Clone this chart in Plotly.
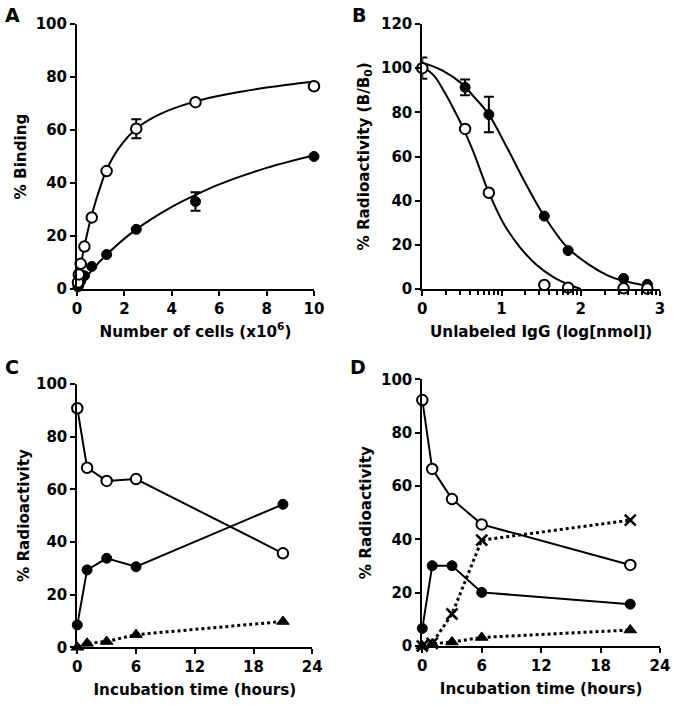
import numpy as np
import plotly.graph_objects as go

# ---------------- Panel A data ----------------
a_cells = [0.039, 0.078, 0.156, 0.3125, 0.625, 1.25, 2.5, 5, 10]
a_open = [2.5, 5.5, 9.5, 16, 27, 44.5, 60.5, 70.5, 76.5]
a_open_err = [0, 0, 0, 0, 0, 0, 3.6, 0, 0]
a_filled = [0.8, 1.5, 3.0, 5.0, 8.5, 13, 22.5, 33, 50]
a_filled_err = [0, 0, 0, 0, 0, 0, 0, 3.5, 0]
# fitted curves
a_fit_open_x = [0, 0.08, 0.16, 0.31, 0.625, 1.0, 1.25, 1.75, 2.5, 3.5, 5, 6.5, 8, 10]
a_fit_open_y = [0, 4.5, 9, 16, 28, 39, 45, 53, 60.5, 66, 70.8, 73.8, 76, 78.3]
a_fit_filled_x = [0, 0.625, 1.25, 2.5, 4, 5, 6, 8, 10]
a_fit_filled_y = [0, 7, 13, 22.5, 31, 35.5, 39.5, 45.7, 50.5]

# ---------------- Panel B data ----------------
b_logx = [0, 0.54, 0.84, 1.54, 1.84, 2.54, 2.84]
b_open = [100, 72.5, 43.6, 1.8, 0.6, 0.3, 0.2]
b_open_err = [4.8, 0, 0, 0, 0, 0, 0]
b_filled = [100, 91.3, 79, 33, 17.4, 4.8, 2.1]
b_filled_err = [0, 3.6, 8, 0, 0, 0, 0]
b_fit_filled_x = [0, 0.25, 0.5, 0.64, 0.83, 1.07, 1.28, 1.53, 1.82, 2.08, 2.33, 2.5, 2.9]
b_fit_filled_y = [102.5, 99, 93, 87.5, 79.5, 64, 49.4, 33.5, 19.2, 11.6, 6.3, 4.1, 1]
b_fit_open_x = [0, 0.15, 0.29, 0.41, 0.52, 0.64, 0.83, 1.02, 1.23, 1.44, 1.65, 1.86, 2.0]
b_fit_open_y = [101, 96.5, 88.5, 80.5, 72.5, 62.5, 44.5, 30, 19, 11, 5.5, 1.8, 0]
b_major_ticks = [0, 1, 2, 3]
b_minor_ticks = [float(np.log10(k * 10 ** n)) for n in range(3) for k in range(2, 10)]

# ---------------- Panel C data ----------------
c_time = [0, 1, 3, 6, 21]
c_open = [90.8, 68.2, 63.2, 63.9, 35.7]
c_filled = [8.5, 29.4, 33.8, 30.6, 54.3]
c_tri = [0, 1.5, 2.2, 4.8, 9.8]

# ---------------- Panel D data ----------------
d_time = [0, 1, 3, 6, 21]
d_open = [92.2, 66.4, 55.1, 45.6, 30.4]
d_filled = [6.6, 30.1, 30.1, 20.1, 15.7]
d_cross = [0, 1.0, 12, 39.7, 47.2]
d_tri = [0, 0.8, 1.5, 3.2, 6.0]

W, H = 675, 706
FONT = "DejaVu Sans"

def px(x):
    return x / W

def py(y):
    return 1 - y / H

fig = go.Figure()

open_marker = dict(symbol="circle", size=10.5, color="white", line=dict(color="black", width=2))
filled_marker = dict(symbol="circle", size=10, color="black", line=dict(color="black", width=1))
tri_marker = dict(symbol="triangle-up", size=11, color="black", line=dict(color="black", width=1))
cross_marker = dict(symbol="x-thin", size=11, color="black", line=dict(color="black", width=2.5))
err = lambda arr: dict(type="data", array=arr, visible=True, color="black", thickness=2, width=5)
curve = dict(color="black", width=2, shape="spline")

# Panel A
fig.add_trace(go.Scatter(x=a_fit_open_x, y=a_fit_open_y, mode="lines", line=curve,
                         xaxis="x", yaxis="y", cliponaxis=False))
fig.add_trace(go.Scatter(x=a_fit_filled_x, y=a_fit_filled_y, mode="lines", line=curve,
                         xaxis="x", yaxis="y", cliponaxis=False))
fig.add_trace(go.Scatter(x=a_cells, y=a_filled, mode="markers", marker=filled_marker, error_y=err(a_filled_err),
                         xaxis="x", yaxis="y", cliponaxis=False))
fig.add_trace(go.Scatter(x=a_cells, y=a_open, mode="markers", marker=open_marker, error_y=err(a_open_err),
                         xaxis="x", yaxis="y", cliponaxis=False))

# Panel B
fig.add_trace(go.Scatter(x=b_fit_open_x, y=b_fit_open_y, mode="lines", line=curve,
                         xaxis="x2", yaxis="y2", cliponaxis=False))
fig.add_trace(go.Scatter(x=b_fit_filled_x, y=b_fit_filled_y, mode="lines", line=curve,
                         xaxis="x2", yaxis="y2", cliponaxis=False))
fig.add_trace(go.Scatter(x=b_logx, y=b_filled, mode="markers", marker=filled_marker, error_y=err(b_filled_err),
                         xaxis="x2", yaxis="y2", cliponaxis=False))
fig.add_trace(go.Scatter(x=b_logx, y=b_open, mode="markers", marker=open_marker, error_y=err(b_open_err),
                         xaxis="x2", yaxis="y2", cliponaxis=False))

# Panel C
fig.add_trace(go.Scatter(x=c_time, y=c_tri, mode="lines+markers", marker=tri_marker,
                         line=dict(color="black", width=3, dash="dot"), xaxis="x3", yaxis="y3", cliponaxis=False))
fig.add_trace(go.Scatter(x=c_time, y=c_filled, mode="lines+markers", marker=filled_marker,
                         line=dict(color="black", width=2), xaxis="x3", yaxis="y3", cliponaxis=False))
fig.add_trace(go.Scatter(x=c_time, y=c_open, mode="lines+markers", marker=open_marker,
                         line=dict(color="black", width=2), xaxis="x3", yaxis="y3", cliponaxis=False))

# Panel D
fig.add_trace(go.Scatter(x=d_time, y=d_tri, mode="lines+markers", marker=tri_marker,
                         line=dict(color="black", width=3, dash="dot"), xaxis="x4", yaxis="y4", cliponaxis=False))
fig.add_trace(go.Scatter(x=d_time, y=d_cross, mode="lines+markers", marker=cross_marker,
                         line=dict(color="black", width=3, dash="dot"), xaxis="x4", yaxis="y4", cliponaxis=False))
fig.add_trace(go.Scatter(x=d_time, y=d_filled, mode="lines+markers", marker=filled_marker,
                         line=dict(color="black", width=2), xaxis="x4", yaxis="y4", cliponaxis=False))
fig.add_trace(go.Scatter(x=d_time, y=d_open, mode="lines+markers", marker=open_marker,
                         line=dict(color="black", width=2), xaxis="x4", yaxis="y4", cliponaxis=False))

tickfont = dict(family=FONT, size=15, color="black", weight="bold")
titlefont = dict(family=FONT, size=15.2, color="black", weight="bold")

def axis(domain, rng, anchor, title, tickvals=None, dtick=None, standoff=6):
    d = dict(domain=domain, range=rng, anchor=anchor, showgrid=False, zeroline=False,
             automargin=False,
             showline=True, linecolor="black", linewidth=2, ticks="outside", ticklen=5,
             tickwidth=2, tickcolor="black", tickfont=tickfont,
             title=dict(text=title, font=titlefont, standoff=standoff))
    if tickvals is not None:
        d.update(tickmode="array", tickvals=tickvals)
    elif dtick is not None:
        d.update(tickmode="linear", tick0=0, dtick=dtick)
    return d

xA = [px(77), px(314)]
yA = [py(289), py(24)]
xB = [px(422.3), px(660)]
yB = [py(289), py(24)]
xC = [px(77.3), px(312.3)]
yC = [py(647.3), py(384)]
xD = [px(422.3), px(660)]
yD = [py(646), py(379.3)]

layout_axes = dict(
    xaxis=axis(xA, [0, 10], "y", "Number of cells (x10<sup>6</sup>)", dtick=2, standoff=9),
    yaxis=axis(yA, [0, 100], "x", "% Binding", dtick=20, standoff=5),
    xaxis2=axis(xB, [0, 3], "y2", "Unlabeled IgG (log[nmol])", tickvals=b_major_ticks, standoff=9),
    yaxis2=axis(yB, [0, 120], "x2", "% Radioactivity (B/B<sub>0</sub>)", dtick=20, standoff=8),
    xaxis3=axis(xC, [0, 24], "y3", "Incubation time (hours)", dtick=6, standoff=9),
    yaxis3=axis(yC, [0, 100], "x3", "% Radioactivity", dtick=20, standoff=3),
    xaxis4=axis(xD, [0, 24], "y4", "Incubation time (hours)", dtick=6, standoff=9),
    yaxis4=axis(yD, [0, 100], "x4", "% Radioactivity", dtick=20, standoff=5.5),
)
layout_axes["xaxis2"]["minor"] = dict(tickmode="array", tickvals=b_minor_ticks, ticks="outside",
                                      ticklen=4, tickwidth=1.5, tickcolor="black", showgrid=False)

fig.update_layout(
    width=W, height=H, margin=dict(l=0, r=0, t=0, b=0),
    paper_bgcolor="white", plot_bgcolor="white", showlegend=False,
    **layout_axes,
)

letters = [("A", 12.5, 15), ("B", 358.5, 14.5), ("C", 12, 367), ("D", 357.5, 367.5)]
for t, x, y in letters:
    fig.add_annotation(text=t, x=px(x), y=py(y), xref="paper", yref="paper", showarrow=False,
                       xanchor="center", yanchor="middle",
                       font=dict(family=FONT, size=19, color="black", weight="bold"))

fig.write_html("out.html", config={"displayModeBar": False},
               post_script="document.body.style.margin='0px';document.body.style.overflow='hidden';")
